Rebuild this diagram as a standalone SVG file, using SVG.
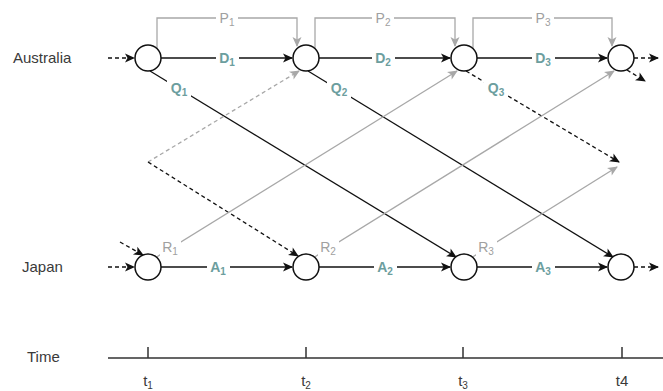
<svg xmlns="http://www.w3.org/2000/svg" width="663" height="391" viewBox="0 0 663 391">
<defs>
<marker id="ab" viewBox="0 0 10 10" refX="9" refY="5" markerWidth="11" markerHeight="10" markerUnits="userSpaceOnUse" orient="auto"><path d="M0,0.5 L10,5 L0,9.5 L2.5,5 z" fill="#111"/></marker>
<marker id="ag" viewBox="0 0 10 10" refX="9" refY="5" markerWidth="11" markerHeight="10" markerUnits="userSpaceOnUse" orient="auto"><path d="M0,0.5 L10,5 L0,9.5 L2.5,5 z" fill="#a8a8a8"/></marker>
<style>
.b{stroke:#111;stroke-width:1.3;fill:none}
.g{stroke:#a8a8a8;stroke-width:1.3;fill:none}
.d{stroke-dasharray:4 3}
.ab{marker-end:url(#ab)}
.ag{marker-end:url(#ag)}
.c{fill:#fff;stroke:#111;stroke-width:1.5}
.t{font-family:"Liberation Sans",Arial,sans-serif;font-size:15px;fill:#3a3a3a}
.lt{font-family:"Liberation Sans",Arial,sans-serif;font-size:14px;fill:#6c9e9e;font-weight:bold;text-anchor:middle}
.lg{font-family:"Liberation Sans",Arial,sans-serif;font-size:14px;fill:#a0a0a0;text-anchor:middle}
.s{font-size:10px}
.bg{fill:#fff}
</style>
</defs>
<text class="t" x="13" y="63">Australia</text>
<text class="t" x="22" y="272">Japan</text>
<text class="t" x="27" y="362">Time</text>
<g id="connectors">
<path class="b d ab" d="M108,58 H134"/>
<path class="b d ab" d="M108,267 H134"/>
<path class="b d ab" d="M120,242 L143,255"/>
<path class="g ag" d="M157,48.6 V18 H297 V46"/>
<path class="g ag" d="M315,48.6 V18 H455 V46"/>
<path class="g ag" d="M473,48.6 V18 H612 V46"/>
<path class="b ab" d="M161,58 H292"/>
<path class="b ab" d="M319,58 H450"/>
<path class="b ab" d="M477,58 H607"/>
<path class="b ab" d="M161,267 H292"/>
<path class="b ab" d="M319,267 H450"/>
<path class="b ab" d="M477,267 H607"/>
<path class="b d ab" d="M634,58 H658"/>
<path class="b d ab" d="M634,267 H658"/>
<path class="b d ab" d="M627,70 L645,81"/>
<path class="b ab" d="M150,71 L456,257"/>
<path class="b ab" d="M308,71 L613,257"/>
<path class="b d ab" d="M466,71 L619,162"/>
<path class="g d ag" d="M148,162 L299,71"/>
<path class="b d ab" d="M148,162 L298,256"/>
<path class="g ag" d="M155,258 L457,71"/>
<path class="g ag" d="M313,258 L614,71"/>
<path class="g ag" d="M471,258 L617,167"/>
</g>
<g id="labels">
<rect class="bg" x="216" y="10" width="22" height="17"/><text class="lg" x="227" y="23">P<tspan class="s" dy="3">1</tspan></text>
<rect class="bg" x="372" y="10" width="22" height="17"/><text class="lg" x="383" y="23">P<tspan class="s" dy="3">2</tspan></text>
<rect class="bg" x="532" y="10" width="22" height="17"/><text class="lg" x="543" y="23">P<tspan class="s" dy="3">3</tspan></text>
<rect class="bg" x="216" y="50" width="23" height="17"/><text class="lt" x="227" y="63">D<tspan class="s" dy="3">1</tspan></text>
<rect class="bg" x="372" y="50" width="23" height="17"/><text class="lt" x="383" y="63">D<tspan class="s" dy="3">2</tspan></text>
<rect class="bg" x="532" y="50" width="23" height="17"/><text class="lt" x="543" y="63">D<tspan class="s" dy="3">3</tspan></text>
<rect class="bg" x="207" y="259" width="23" height="17"/><text class="lt" x="218" y="272">A<tspan class="s" dy="3">1</tspan></text>
<rect class="bg" x="374" y="259" width="23" height="17"/><text class="lt" x="385" y="272">A<tspan class="s" dy="3">2</tspan></text>
<rect class="bg" x="532" y="259" width="23" height="17"/><text class="lt" x="543" y="272">A<tspan class="s" dy="3">3</tspan></text>
<rect class="bg" x="167" y="80" width="24" height="18"/><text class="lt" x="179" y="93">Q<tspan class="s" dy="3">1</tspan></text>
<rect class="bg" x="327" y="80" width="24" height="18"/><text class="lt" x="339" y="93">Q<tspan class="s" dy="3">2</tspan></text>
<rect class="bg" x="484" y="80" width="24" height="18"/><text class="lt" x="496" y="93">Q<tspan class="s" dy="3">3</tspan></text>
<rect class="bg" x="160" y="240" width="21" height="16"/><text class="lg" x="170" y="252">R<tspan class="s" dy="3">1</tspan></text>
<rect class="bg" x="318" y="240" width="21" height="16"/><text class="lg" x="328" y="252">R<tspan class="s" dy="3">2</tspan></text>
<rect class="bg" x="476" y="240" width="21" height="16"/><text class="lg" x="486" y="252">R<tspan class="s" dy="3">3</tspan></text>
</g>
<g id="australia-1"><circle class="c" cx="148" cy="58" r="13"/></g>
<g id="australia-2"><circle class="c" cx="306" cy="58" r="13"/></g>
<g id="australia-3"><circle class="c" cx="464" cy="58" r="13"/></g>
<g id="australia-4"><circle class="c" cx="621" cy="58" r="13"/></g>
<g id="japan-1"><circle class="c" cx="148" cy="267" r="13"/></g>
<g id="japan-2"><circle class="c" cx="306" cy="267" r="13"/></g>
<g id="japan-3"><circle class="c" cx="464" cy="267" r="13"/></g>
<g id="japan-4"><circle class="c" cx="621" cy="267" r="13"/></g>
<g id="time-axis">
<path stroke="#333" stroke-width="1.5" fill="none" d="M108,358 H663 M148,347 V358 M306,347 V358 M463,347 V358 M622,347 V358"/>
<text class="t" x="148" y="386" text-anchor="middle">t<tspan class="s" dy="3">1</tspan></text>
<text class="t" x="306" y="386" text-anchor="middle">t<tspan class="s" dy="3">2</tspan></text>
<text class="t" x="463" y="386" text-anchor="middle">t<tspan class="s" dy="3">3</tspan></text>
<text class="t" x="622" y="386" text-anchor="middle">t4</text>
</g>
</svg>
